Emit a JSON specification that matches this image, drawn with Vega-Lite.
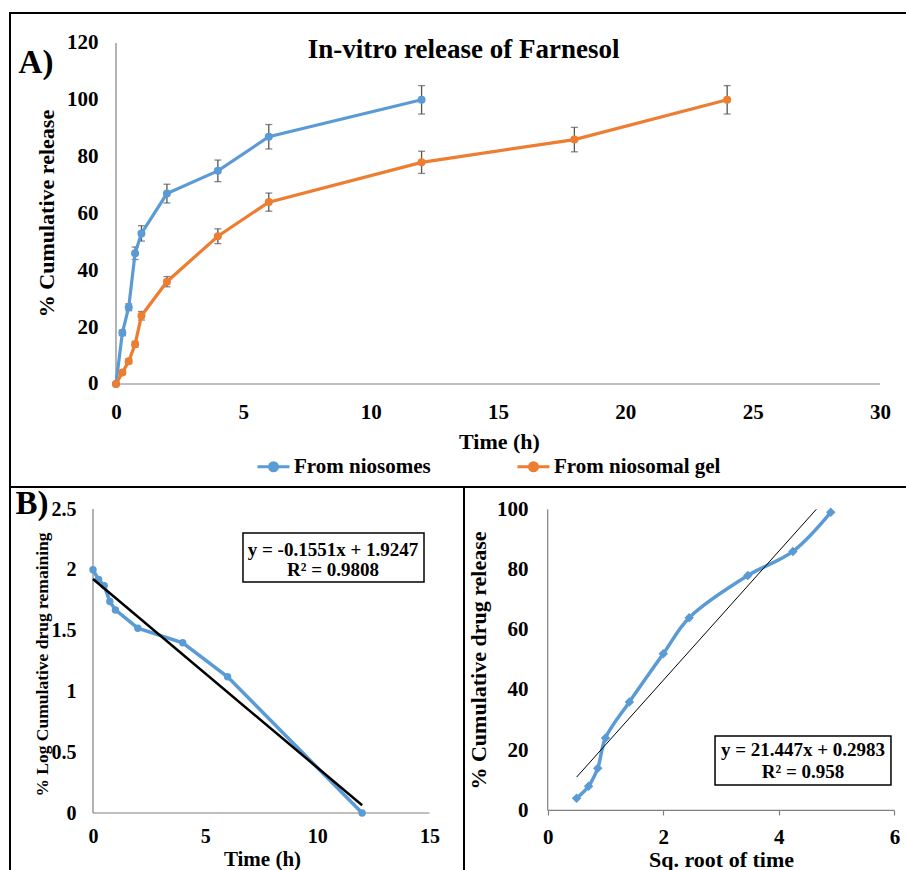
{
  "$schema": "https://vega.github.io/schema/vega-lite/v6.json",
  "padding": {"left": 9, "top": 12, "right": -3, "bottom": -3},
  "background": "white",
  "bounds": "flush",
  "spacing": 0,
  "datasets": {
    "release": [
      {"series": "From niosomes", "time": 0, "value": 0, "err": 0},
      {"series": "From niosomes", "time": 0.25, "value": 18, "err": 1},
      {"series": "From niosomes", "time": 0.5, "value": 27, "err": 1.2},
      {"series": "From niosomes", "time": 0.75, "value": 46, "err": 2.2},
      {"series": "From niosomes", "time": 1, "value": 53, "err": 2.7},
      {"series": "From niosomes", "time": 2, "value": 67, "err": 3.3},
      {"series": "From niosomes", "time": 4, "value": 75, "err": 3.8},
      {"series": "From niosomes", "time": 6, "value": 87, "err": 4.3},
      {"series": "From niosomes", "time": 12, "value": 100, "err": 5},
      {"series": "From niosomal gel", "time": 0, "value": 0, "err": 0},
      {"series": "From niosomal gel", "time": 0.25, "value": 4, "err": 0.6},
      {"series": "From niosomal gel", "time": 0.5, "value": 8, "err": 0.8},
      {"series": "From niosomal gel", "time": 0.75, "value": 14, "err": 1},
      {"series": "From niosomal gel", "time": 1, "value": 24, "err": 1.5},
      {"series": "From niosomal gel", "time": 2, "value": 36, "err": 1.8},
      {"series": "From niosomal gel", "time": 4, "value": 52, "err": 2.6},
      {"series": "From niosomal gel", "time": 6, "value": 64, "err": 3.2},
      {"series": "From niosomal gel", "time": 12, "value": 78, "err": 3.9},
      {"series": "From niosomal gel", "time": 18, "value": 86, "err": 4.3},
      {"series": "From niosomal gel", "time": 24, "value": 100, "err": 5}
    ],
    "firstorder": [
      {"time": 0, "logrem": 2.0},
      {"time": 0.25, "logrem": 1.92},
      {"time": 0.5, "logrem": 1.87},
      {"time": 0.75, "logrem": 1.74},
      {"time": 1, "logrem": 1.67},
      {"time": 2, "logrem": 1.52},
      {"time": 4, "logrem": 1.40},
      {"time": 6, "logrem": 1.12},
      {"time": 12, "logrem": 0}
    ],
    "firstorder_fit": [
      {"time": 0, "fit": 1.9247},
      {"time": 12, "fit": 0.0635}
    ],
    "higuchi": [
      {"sqrt_t": 0.5, "rel": 4},
      {"sqrt_t": 0.707, "rel": 8},
      {"sqrt_t": 0.866, "rel": 14},
      {"sqrt_t": 1, "rel": 24},
      {"sqrt_t": 1.414, "rel": 36},
      {"sqrt_t": 2, "rel": 52},
      {"sqrt_t": 2.449, "rel": 64},
      {"sqrt_t": 3.464, "rel": 78},
      {"sqrt_t": 4.243, "rel": 86},
      {"sqrt_t": 4.899, "rel": 99}
    ],
    "higuchi_fit": [
      {"sqrt_t": 0.5, "fit": 11.02},
      {"sqrt_t": 4.649, "fit": 100}
    ]
  },
  "vconcat": [
    {
      "width": 899,
      "height": 474,
      "layer": [
        {
          "data": {"values": [{}]},
          "mark": {"type": "rule", "color": "#808080", "strokeWidth": 1.2},
          "encoding": {
            "x": {"datum": 0, "type": "quantitative"},
            "x2": {"datum": 30},
            "y": {"datum": 0, "type": "quantitative"}
          }
        },
        {
          "data": {"values": [{}]},
          "mark": {"type": "rule", "color": "#808080", "strokeWidth": 1.2},
          "encoding": {
            "x": {"datum": 0, "type": "quantitative"},
            "y": {"datum": 0, "type": "quantitative"},
            "y2": {"datum": 120}
          }
        },
        {
          "data": {"name": "release"},
          "mark": {"type": "errorbar", "color": "#555555", "thickness": 1.3, "ticks": {"size": 7}},
          "encoding": {
            "x": {"field": "time", "type": "quantitative", "title": "Time (h)"},
            "y": {"field": "value", "type": "quantitative", "title": "% Cumulative release"},
            "yError": {"field": "err"}
          }
        },
        {
          "data": {"name": "release"},
          "mark": {"type": "line", "strokeWidth": 3.2, "point": {"filled": true, "size": 64}},
          "encoding": {
            "x": {
              "field": "time", "type": "quantitative",
              "scale": {"domain": [-4.162, 31.14], "nice": false, "zero": false},
              "axis": {
                "orient": "bottom", "offset": -103, "values": [0, 5, 10, 15, 20, 25, 30], "format": "d",
                "labelFontSize": 21, "labelPadding": 17,
                "title": "Time (h)", "titleFontSize": 22, "titleX": 489, "titleY": 64,
                "titleBaseline": "alphabetic", "titleAlign": "center", "titleAngle": 0
              }
            },
            "y": {
              "field": "value", "type": "quantitative",
              "scale": {"domain": [-36.25, 130.55], "nice": false, "zero": false},
              "axis": {
                "orient": "left", "offset": -106, "values": [0, 20, 40, 60, 80, 100, 120], "format": "d",
                "labelFontSize": 21, "labelPadding": 18,
                "title": "% Cumulative release", "titleFontSize": 22, "titleX": -63, "titleY": 200,
                "titleBaseline": "alphabetic", "titleAlign": "center", "titleAngle": -90
              }
            },
            "color": {
              "field": "series", "type": "nominal",
              "scale": {"domain": ["From niosomes", "From niosomal gel"], "range": ["#5B9BD5", "#ED7D31"]},
              "legend": {
                "orient": "none", "legendX": 246, "legendY": 436, "direction": "horizontal", "title": null,
                "symbolType": "M-1,0L1,0M0.25,0A0.25,0.25,0,1,1,-0.25,0A0.25,0.25,0,1,1,0.25,0Z",
                "symbolSize": 1024, "symbolStrokeWidth": 3,
                "labelFont": "Liberation Serif", "labelFontSize": 21, "labelFontWeight": "bold",
                "labelColor": "black", "labelOffset": 3, "columnPadding": 80, "labelLimit": 400,
                "encode": {
                  "symbols": {
                    "update": {
                      "fill": {"signal": "datum.value === 'From niosomes' ? '#5B9BD5' : '#ED7D31'"},
                      "stroke": {"signal": "datum.value === 'From niosomes' ? '#5B9BD5' : '#ED7D31'"},
                      "strokeWidth": {"value": 3},
                      "opacity": {"value": 1}
                    }
                  }
                }
              }
            }
          }
        },
        {
          "data": {"values": [{}]},
          "mark": {"type": "text", "text": "A)", "font": "Liberation Serif", "fontSize": 33, "fontWeight": "bold", "align": "center", "baseline": "alphabetic", "color": "black"},
          "encoding": {
            "x": {"datum": -3.14, "type": "quantitative"},
            "y": {"datum": 109.4, "type": "quantitative"}
          }
        },
        {
          "data": {"values": [{}]},
          "mark": {"type": "text", "text": "In-vitro release of Farnesol", "font": "Liberation Serif", "fontSize": 27, "fontWeight": "bold", "align": "center", "baseline": "alphabetic", "color": "black"},
          "encoding": {
            "x": {"datum": 13.65, "type": "quantitative"},
            "y": {"datum": 114.6, "type": "quantitative"}
          }
        }
      ]
    },
    {
      "hconcat": [
        {
          "width": 454,
          "height": 386,
          "layer": [
            {
              "data": {"values": [{}]},
              "mark": {"type": "rule", "color": "#808080", "strokeWidth": 1.2},
              "encoding": {
                "x": {"datum": 0, "type": "quantitative"},
                "x2": {"datum": 15},
                "y": {"datum": 0, "type": "quantitative"}
              }
            },
            {
              "data": {"values": [{}]},
              "mark": {"type": "rule", "color": "#808080", "strokeWidth": 1.2},
              "encoding": {
                "x": {"datum": 0, "type": "quantitative"},
                "y": {"datum": 0, "type": "quantitative"},
                "y2": {"datum": 2.5}
              }
            },
            {
              "data": {"name": "firstorder"},
              "mark": {"type": "line", "color": "#5B9BD5", "strokeWidth": 3.5, "point": {"filled": true, "size": 55, "color": "#5B9BD5"}},
              "encoding": {
                "x": {
                  "field": "time", "type": "quantitative",
                  "scale": {"domain": [-3.7, 16.54], "nice": false, "zero": false},
                  "axis": {
                    "orient": "bottom", "offset": -60, "values": [0, 5, 10, 15], "format": "d",
                    "labelFontSize": 20, "labelPadding": 13,
                    "title": "Time (h)", "titleFontSize": 21, "titleX": 252, "titleY": 52,
                    "titleBaseline": "alphabetic", "titleAlign": "center", "titleAngle": 0
                  }
                },
                "y": {
                  "field": "logrem", "type": "quantitative",
                  "scale": {"domain": [-0.4934, 2.681], "nice": false, "zero": false},
                  "axis": {
                    "orient": "left", "offset": -83, "values": [0, 0.5, 1, 1.5, 2, 2.5], "format": ".1~f",
                    "labelFontSize": 20, "labelPadding": 17,
                    "title": "% Log Cumulative drug  remaining", "titleFontSize": 17.5, "titleX": -46, "titleY": 177,
                    "titleBaseline": "alphabetic", "titleAlign": "center", "titleAngle": -90
                  }
                }
              }
            },
            {
              "data": {"name": "firstorder_fit"},
              "mark": {"type": "line", "color": "black", "strokeWidth": 2.5},
              "encoding": {
                "x": {"field": "time", "type": "quantitative", "title": "Time (h)"},
                "y": {"field": "fit", "type": "quantitative", "title": "% Log Cumulative drug  remaining"}
              }
            },
            {
              "data": {"values": [{}]},
              "mark": {"type": "rect", "fill": "white", "stroke": "black", "strokeWidth": 1.5},
              "encoding": {
                "x": {"datum": 6.687, "type": "quantitative"},
                "x2": {"datum": 14.757},
                "y": {"datum": 2.303, "type": "quantitative"},
                "y2": {"datum": 1.9}
              }
            },
            {
              "data": {"values": [{}]},
              "mark": {"type": "text", "text": "y = -0.1551x + 1.9247", "font": "Liberation Serif", "fontSize": 19, "fontWeight": "bold", "align": "center", "baseline": "alphabetic", "color": "black"},
              "encoding": {
                "x": {"datum": 10.7, "type": "quantitative"},
                "y": {"datum": 2.113, "type": "quantitative"}
              }
            },
            {
              "data": {"values": [{}]},
              "mark": {"type": "text", "text": "R² = 0.9808", "font": "Liberation Serif", "fontSize": 19, "fontWeight": "bold", "align": "center", "baseline": "alphabetic", "color": "black"},
              "encoding": {
                "x": {"datum": 10.7, "type": "quantitative"},
                "y": {"datum": 1.949, "type": "quantitative"}
              }
            },
            {
              "data": {"values": [{}]},
              "mark": {"type": "text", "text": "B)", "font": "Liberation Serif", "fontSize": 33, "fontWeight": "bold", "align": "center", "baseline": "alphabetic", "color": "black"},
              "encoding": {
                "x": {"datum": -2.72, "type": "quantitative"},
                "y": {"datum": 2.459, "type": "quantitative"}
              }
            }
          ]
        },
        {
          "width": 445,
          "height": 386,
          "layer": [
            {
              "data": {"values": [{}]},
              "mark": {"type": "rule", "color": "#808080", "strokeWidth": 1.2},
              "encoding": {
                "x": {"datum": 0, "type": "quantitative"},
                "x2": {"datum": 6},
                "y": {"datum": 0, "type": "quantitative"}
              }
            },
            {
              "data": {"values": [{}]},
              "mark": {"type": "rule", "color": "#808080", "strokeWidth": 1.2},
              "encoding": {
                "x": {"datum": 0, "type": "quantitative"},
                "y": {"datum": 0, "type": "quantitative"},
                "y2": {"datum": 100}
              }
            },
            {
              "data": {"name": "higuchi"},
              "mark": {"type": "line", "color": "#5B9BD5", "strokeWidth": 3.5, "interpolate": "catmull-rom", "point": {"filled": true, "shape": "diamond", "size": 90, "color": "#5B9BD5"}},
              "encoding": {
                "x": {
                  "field": "sqrt_t", "type": "quantitative",
                  "scale": {"domain": [-1.4486, 6.2531], "nice": false, "zero": false},
                  "axis": {
                    "orient": "bottom", "offset": -63, "values": [0, 2, 4, 6], "format": "d",
                    "ticks": true, "tickSize": 5, "tickColor": "#808080", "tickWidth": 1.2,
                    "labelFontSize": 21, "labelPadding": 11,
                    "title": "Sq. root of time", "titleFontSize": 22, "titleX": 257, "titleY": 56,
                    "titleBaseline": "alphabetic", "titleAlign": "center", "titleAngle": 0
                  }
                },
                "y": {
                  "field": "rel", "type": "quantitative",
                  "scale": {"domain": [-20.83, 107.41], "nice": false, "zero": false},
                  "axis": {
                    "orient": "left", "offset": -84, "values": [0, 20, 40, 60, 80, 100], "format": "d",
                    "labelFontSize": 21, "labelPadding": 20,
                    "title": "% Cumulative drug release", "titleFontSize": 22, "titleX": -63, "titleY": 173,
                    "titleBaseline": "alphabetic", "titleAlign": "center", "titleAngle": -90
                  }
                }
              }
            },
            {
              "data": {"name": "higuchi_fit"},
              "mark": {"type": "line", "color": "black", "strokeWidth": 1},
              "encoding": {
                "x": {"field": "sqrt_t", "type": "quantitative", "title": "Sq. root of time"},
                "y": {"field": "fit", "type": "quantitative", "title": "% Cumulative drug release"}
              }
            },
            {
              "data": {"values": [{}]},
              "mark": {"type": "rect", "fill": "white", "stroke": "black", "strokeWidth": 1.5},
              "encoding": {
                "x": {"datum": 2.896, "type": "quantitative"},
                "x2": {"datum": 5.941},
                "y": {"datum": 24.68, "type": "quantitative"},
                "y2": {"datum": 8.41}
              }
            },
            {
              "data": {"values": [{}]},
              "mark": {"type": "text", "text": "y = 21.447x + 0.2983", "font": "Liberation Serif", "fontSize": 19, "fontWeight": "bold", "align": "center", "baseline": "alphabetic", "color": "black"},
              "encoding": {
                "x": {"datum": 4.419, "type": "quantitative"},
                "y": {"datum": 18.04, "type": "quantitative"}
              }
            },
            {
              "data": {"values": [{}]},
              "mark": {"type": "text", "text": "R² = 0.958", "font": "Liberation Serif", "fontSize": 19, "fontWeight": "bold", "align": "center", "baseline": "alphabetic", "color": "black"},
              "encoding": {
                "x": {"datum": 4.419, "type": "quantitative"},
                "y": {"datum": 10.73, "type": "quantitative"}
              }
            }
          ]
        }
      ],
      "spacing": 0,
      "bounds": "flush"
    }
  ],
  "config": {
    "view": {"stroke": "black", "strokeWidth": 2},
    "font": "Liberation Serif",
    "axis": {
      "labelFont": "Liberation Serif", "labelFontWeight": "bold", "labelColor": "black",
      "titleFont": "Liberation Serif", "titleFontWeight": "bold", "titleColor": "black",
      "grid": false, "domain": false, "ticks": false,
      "labelFlush": false, "labelOverlap": false
    },
    "concat": {"spacing": 0}
  }
}
